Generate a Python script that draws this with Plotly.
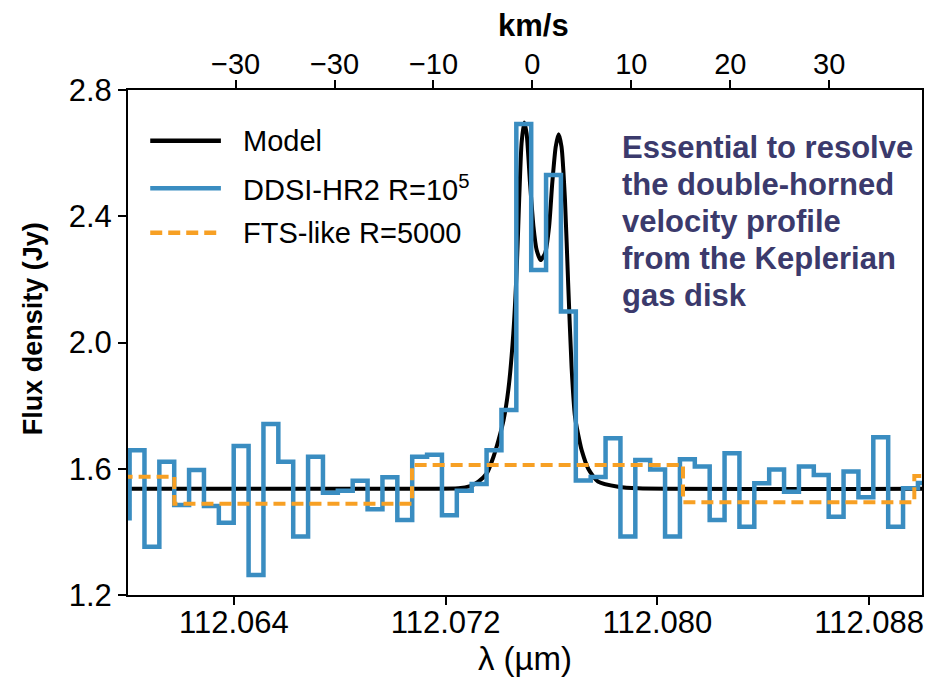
import plotly.graph_objects as go

# ---------------- data ----------------
# High-resolution (DDSI-HR2) spectrum: bin centres (um) and flux (Jy)
hr_wl = [112.059779, 112.060341, 112.060903, 112.061465, 112.062027, 112.062589,
         112.063151, 112.063713, 112.064275, 112.064837, 112.065399, 112.065961,
         112.066523, 112.067085, 112.067647, 112.068209, 112.068771, 112.069333,
         112.069895, 112.070457, 112.071019, 112.071581, 112.072143, 112.072705,
         112.073267, 112.073829, 112.074391, 112.074953, 112.075515, 112.076077,
         112.076639, 112.077201, 112.077763, 112.078325, 112.078887, 112.079449,
         112.080011, 112.080573, 112.081135, 112.081697, 112.082259, 112.082821,
         112.083383, 112.083945, 112.084507, 112.085069, 112.085631, 112.086193,
         112.086755, 112.087317, 112.087879, 112.088441, 112.089003, 112.089565,
         112.090127]
hr_flux = [1.443, 1.659, 1.353, 1.622, 1.485, 1.596, 1.482, 1.429, 1.672, 1.263,
           1.742, 1.622, 1.385, 1.638, 1.524, 1.530, 1.562, 1.472, 1.573, 1.438,
           1.638, 1.644, 1.453, 1.530, 1.552, 1.659, 1.786, 2.692, 2.230, 2.531,
           2.098, 1.563, 1.574, 1.697, 1.385, 1.628, 1.598, 1.385, 1.630, 1.607,
           1.438, 1.649, 1.416, 1.554, 1.598, 1.527, 1.607, 1.580, 1.448, 1.591,
           1.510, 1.700, 1.416, 1.538, 1.555]

# FTS-like (R=5000) spectrum: bin left edges (um) and flux (Jy)
fts_wl = [112.0570, 112.06175, 112.07073, 112.08097, 112.08971, 112.0950]
fts_flux = [1.575, 1.489, 1.612, 1.494, 1.577, 1.577]

# Model line profile (um, Jy)
model_wl = [112.0600, 112.0700, 112.07249, 112.07293, 112.07324, 112.07356,
            112.07381, 112.07400, 112.07419, 112.07437, 112.07456, 112.07469,
            112.07478, 112.07487, 112.07497, 112.07506, 112.07519, 112.07532,
            112.07544, 112.07559, 112.07576, 112.07591, 112.07603, 112.07616,
            112.07627, 112.07638, 112.07651, 112.07663, 112.07676, 112.07689,
            112.07708, 112.07714, 112.07739, 112.07776, 112.07852, 112.07927,
            112.0900]
model_flux = [1.537, 1.537, 1.538, 1.545, 1.559, 1.586, 1.638, 1.691, 1.754,
              1.850, 2.030, 2.240, 2.453, 2.631, 2.697, 2.663, 2.505, 2.367,
              2.293, 2.261, 2.283, 2.367, 2.505, 2.620, 2.660, 2.620, 2.453,
              2.189, 1.923, 1.765, 1.680, 1.659, 1.600, 1.559, 1.543, 1.538,
              1.537]

x_ticks = [112.064, 112.072, 112.080, 112.088]
x_ticktext = ["112.064", "112.072", "112.080", "112.088"]
y_ticks = [1.2, 1.6, 2.0, 2.4, 2.8]
y_ticktext = ["1.2", "1.6", "2.0", "2.4", "2.8"]
v_ticks = [-30, -20, -10, 0, 10, 20, 30]
v_ticktext = ["\u221230", "\u221230", "\u221210", "0", "10", "20", "30"]

legend_labels = ["Model", "DDSI-HR2 R=10<sup>5</sup>", "FTS-like R=5000"]
note_lines = ["Essential to resolve", "the double-horned", "velocity profile",
              "from the Keplerian", "gas disk"]

# ---------------- styling ----------------
C_MODEL = "#000000"
C_HR = "#3A8DC1"
C_FTS = "#F7A024"
C_NOTE = "#3B3A6C"
FONT = "Liberation Sans, Arial, Helvetica, sans-serif"

x_range = [112.060, 112.090]
lam0 = 112.07528
c_kms = 299792.458
v_range = [(x_range[0] - lam0) / lam0 * c_kms, (x_range[1] - lam0) / lam0 * c_kms]

fig = go.Figure()
fig.add_trace(go.Scatter(x=model_wl, y=model_flux, mode="lines",
                         line=dict(color=C_MODEL, width=4, shape="spline", smoothing=0.6),
                         name="Model", showlegend=False))
fig.add_trace(go.Scatter(x=hr_wl, y=hr_flux, mode="lines",
                         line=dict(color=C_HR, width=4.5, shape="hvh"),
                         name="DDSI-HR2", showlegend=False))
fig.add_trace(go.Scatter(x=fts_wl, y=fts_flux, mode="lines",
                         line=dict(color=C_FTS, width=4, shape="hv", dash="12px,6px"),
                         name="FTS-like", showlegend=False))
# invisible trace to activate top velocity axis
fig.add_trace(go.Scatter(x=v_ticks, y=[None] * len(v_ticks), xaxis="x2",
                         mode="lines", showlegend=False, hoverinfo="skip"))

axis_common = dict(showline=True, linecolor="black", linewidth=2, ticks="outside",
                   ticklen=8, tickwidth=2, tickcolor="black", showgrid=False,
                   zeroline=False)

fig.update_layout(
    width=928, height=680,
    margin=dict(l=128, r=4, t=90, b=85),
    paper_bgcolor="white", plot_bgcolor="white",
    xaxis=dict(range=x_range, tickvals=x_ticks, ticktext=x_ticktext, mirror=True,
               ticklabeloverflow="allow", ticklabelstandoff=-9,
               tickfont=dict(family=FONT, size=31, color="black"),
               title=dict(text="\u03bb (\u00b5m)", font=dict(family=FONT, size=33, color="black"),
                          standoff=4),
               **axis_common),
    xaxis2=dict(range=v_range, overlaying="x", side="top", tickvals=v_ticks,
                ticktext=v_ticktext, anchor="y", ticklabeloverflow="allow",
                ticklabelstandoff=-6,
                tickfont=dict(family=FONT, size=29, color="black"),
                **axis_common),
    yaxis=dict(range=[1.2, 2.8], tickvals=y_ticks, ticktext=y_ticktext, mirror=True,
               tickfont=dict(family=FONT, size=31, color="black"),
               **axis_common),
)

# y-axis title
fig.add_annotation(x=(33 - 128) / 796, y=(595 - 329) / 505, xref="paper", yref="paper",
                   text="<b>Flux density (Jy)</b>", textangle=-90, showarrow=False,
                   font=dict(family=FONT, size=27, color="black"),
                   xanchor="center", yanchor="middle")

# top axis title
fig.add_annotation(x=(535 - 128) / 796, y=(595 - 25) / 505, xref="paper", yref="paper",
                   text="<b>km/s</b>", showarrow=False,
                   font=dict(family=FONT, size=31, color="black"),
                   xanchor="center", yanchor="middle")

# custom legend
leg_y = [0.8996, 0.8053, 0.7174]
leg_colors = [C_MODEL, C_HR, C_FTS]
leg_dash = ["solid", "solid", "12px,6px"]
for lab, yy, col, dsh in zip(legend_labels, leg_y, leg_colors, leg_dash):
    fig.add_shape(type="line", xref="paper", yref="paper", x0=0.028, x1=0.117,
                  y0=yy, y1=yy, line=dict(color=col, width=4.5, dash=dsh))
    fig.add_annotation(x=0.1423, y=yy, xref="paper", yref="paper", text=lab,
                       showarrow=False, xanchor="left", yanchor="middle",
                       font=dict(family=FONT, size=29, color="black"))

# note text, one annotation per line
note_y_px = [147, 184, 221, 258, 295]
for line_txt, ypx in zip(note_lines, note_y_px):
    fig.add_annotation(x=(621 - 128) / 796, y=(595 - ypx) / 505, xref="paper", yref="paper",
                       text="<b>" + line_txt + "</b>", showarrow=False,
                       xanchor="left", yanchor="middle", align="left",
                       font=dict(family=FONT, size=31, color=C_NOTE))

fig.write_html("out.html")
